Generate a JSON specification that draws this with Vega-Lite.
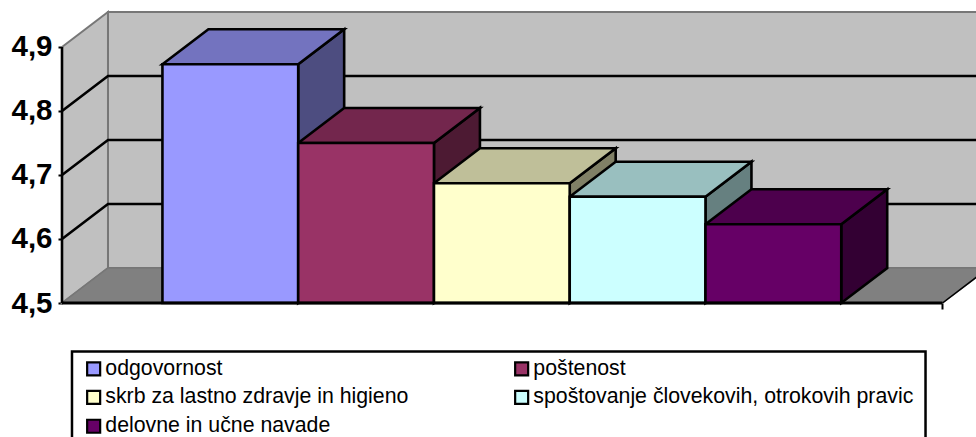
{"$schema":"https://vega.github.io/schema/vega-lite/v6.json","width":914,"height":303,"autosize":{"type":"none"},"padding":{"left":62,"top":0,"right":0,"bottom":134},"background":"white","config":{"view":{"stroke":null}},
"datasets":{"bars":[{"name":"odgovornost","order":0,"value":4.873},{"name":"poštenost","order":1,"value":4.75},{"name":"skrb za lastno zdravje in higieno","order":2,"value":4.687},{"name":"spoštovanje človekovih, otrokovih pravic","order":3,"value":4.666},{"name":"delovne in učne navade","order":4,"value":4.623}],"ticks":[{"tick":4.6},{"tick":4.7},{"tick":4.8}],"two":[{"c":0},{"c":1}],"four":[{"c":0},{"c":1},{"c":2},{"c":3}],"one":[{"c":0}]},
"resolve":{"scale":{"fill":"independent"}},
"layer":[
{"data":{"name":"one"},"mark":{"type":"rect","fill":"#C0C0C0","stroke":"#777777","strokeWidth":2},"encoding":{"x":{"datum":-0.4012,"type":"quantitative","scale":{"domain":[-0.7398,5.9926],"nice":false,"zero":false},"axis":{"values":[5.7457],"labels":false,"domain":false,"grid":false,"title":null,"tickColor":"black","tickWidth":2,"tickSize":6}},"x2":{"datum":6.0843},"y":{"datum":4.5547,"type":"quantitative","scale":{"domain":[4.5,4.9734],"nice":false,"zero":false},"axis":{"values":[4.5,4.6,4.7,4.8,4.9],"domain":false,"grid":false,"title":null,"tickColor":"black","tickWidth":2,"tickSize":4,"labelFont":"Liberation Sans","labelFontWeight":"bold","labelFontSize":29.5,"labelColor":"black","labelPadding":6,"labelExpr":"replace(format(datum.value,'.1f'),'.',',')"}},"y2":{"datum":4.9547}}},
{"data":{"name":"two"},"transform":[{"calculate":"-0.7398+datum.c*0.3386","as":"x"},{"calculate":"4.9+datum.c*0.0547","as":"y"},{"calculate":"4.5+datum.c*0.0547","as":"y2"}],"mark":{"type":"area","fill":"#C0C0C0","stroke":"#777777","strokeWidth":2},"encoding":{"x":{"field":"x","type":"quantitative"},"y":{"field":"y","type":"quantitative"},"y2":{"field":"y2"}}},
{"data":{"name":"four"},"transform":[{"calculate":"[-0.7398,-0.4012,5.7457,6.0843][datum.c]","as":"x"},{"calculate":"datum.c>0?4.5547:4.5","as":"y"},{"calculate":"datum.c==3?4.5547:4.5","as":"y2"}],"mark":{"type":"area","fill":"#808080","stroke":"#777777","strokeWidth":1.5},"encoding":{"x":{"field":"x","type":"quantitative"},"y":{"field":"y","type":"quantitative"},"y2":{"field":"y2"}}},
{"data":{"name":"ticks"},"transform":[{"calculate":"[0,1,2]","as":"p"},{"flatten":["p"]},{"calculate":"[-0.7398,-0.4012,6.0843][datum.p]","as":"x"},{"calculate":"datum.tick+(datum.p>0?0.0547:0)","as":"y"}],"mark":{"type":"line","stroke":"black","strokeWidth":2.6},"encoding":{"x":{"field":"x","type":"quantitative"},"y":{"field":"y","type":"quantitative"},"detail":{"field":"tick"}}},
{"data":{"name":"two"},"transform":[{"calculate":"5.7457+datum.c*0.3386","as":"x"},{"calculate":"4.5+datum.c*0.0547","as":"y"}],"mark":{"type":"line","stroke":"black","strokeWidth":1.5},"encoding":{"x":{"field":"x","type":"quantitative"},"y":{"field":"y","type":"quantitative"}}},
{"data":{"name":"bars"},"transform":[{"calculate":"[0,1]","as":"c"},{"flatten":["c"]},{"calculate":"datum.order+1+datum.c*0.3386","as":"x"},{"calculate":"datum.value+datum.c*0.0547","as":"y"},{"calculate":"4.5+datum.c*0.0547","as":"y2"}],"mark":{"type":"area","stroke":"black","strokeWidth":2.6},"encoding":{"x":{"field":"x","type":"quantitative"},"y":{"field":"y","type":"quantitative"},"y2":{"field":"y2"},"fill":{"field":"name","type":"nominal","legend":null,"scale":{"domain":["odgovornost","poštenost","skrb za lastno zdravje in higieno","spoštovanje človekovih, otrokovih pravic","delovne in učne navade"],"range":["#4D4D80","#4D1A33","#808066","#668080","#330033"]}}}},
{"data":{"name":"bars"},"transform":[{"calculate":"[0,1,2,3]","as":"c"},{"flatten":["c"]},{"calculate":"datum.order+[0,0.3386,1,1.3386][datum.c]","as":"x"},{"calculate":"datum.value+(datum.c>0?0.0547:0)","as":"y"},{"calculate":"datum.value+(datum.c==3?0.0547:0)","as":"y2"}],"mark":{"type":"area","stroke":"black","strokeWidth":2.6},"encoding":{"x":{"field":"x","type":"quantitative"},"y":{"field":"y","type":"quantitative"},"y2":{"field":"y2"},"fill":{"field":"name","type":"nominal","legend":null,"scale":{"domain":["odgovornost","poštenost","skrb za lastno zdravje in higieno","spoštovanje človekovih, otrokovih pravic","delovne in učne navade"],"range":["#7373BF","#73264D","#BFBF99","#99BFBF","#4D004D"]}}}},
{"data":{"name":"one"},"mark":{"type":"rect","fill":"white","stroke":"black","strokeWidth":2.5},"encoding":{"x":{"datum":-0.6662,"type":"quantitative"},"x2":{"datum":5.6208},"y":{"datum":4.4242,"type":"quantitative"},"y2":{"datum":4.27}}},
{"data":{"name":"bars"},"transform":[{"calculate":"datum.order+1","as":"x2"}],"mark":{"type":"rect","stroke":"black","strokeWidth":2.6},"encoding":{"x":{"field":"order","type":"quantitative"},"x2":{"field":"x2"},"y":{"field":"value","type":"quantitative"},"y2":{"datum":4.5},"fill":{"field":"name","type":"nominal","sort":null,"scale":{"domain":["odgovornost","poštenost","skrb za lastno zdravje in higieno","spoštovanje človekovih, otrokovih pravic","delovne in učne navade"],"range":["#9999FF","#993366","#FFFFCC","#CCFFFF","#660066"]},"legend":{"title":null,"orient":"none","legendX":21,"legendY":358,"direction":"horizontal","columns":2,"padding":0,"columnPadding":101,"rowPadding":5.8,"symbolType":"square","symbolSize":169,"symbolStrokeColor":"black","symbolStrokeWidth":2.2,"labelFont":"Liberation Sans","labelFontSize":21.3,"labelColor":"black","labelOffset":1,"labelLimit":500}}}},
{"data":{"name":"one"},"mark":{"type":"rule","stroke":"black","strokeWidth":2.6},"encoding":{"x":{"datum":-0.7398,"type":"quantitative"},"y":{"datum":4.5,"type":"quantitative"},"y2":{"datum":4.9}}},
{"data":{"name":"one"},"mark":{"type":"rule","stroke":"black","strokeWidth":2.8},"encoding":{"x":{"datum":-0.7398,"type":"quantitative"},"x2":{"datum":5.7457},"y":{"datum":4.5,"type":"quantitative"}}}
]}
